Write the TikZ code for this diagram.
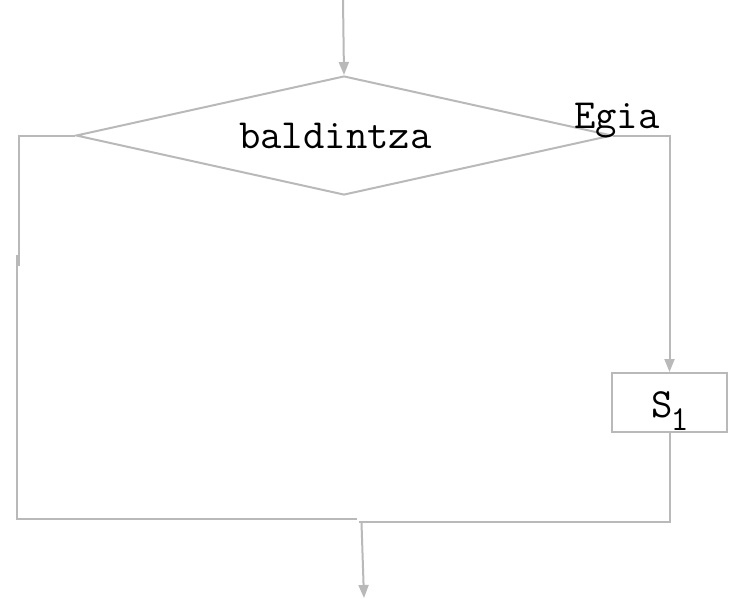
\documentclass[tikz,border=0pt]{standalone}
\usepackage{fontspec}
\usetikzlibrary{shapes.geometric,arrows.meta}
\definecolor{linegray}{RGB}{185,185,185}
\begin{document}
\begin{tikzpicture}[x=1pt,y=-1pt,
  flow/.style={draw=linegray,line width=2pt},
  arr/.style={flow,-{Triangle[length=13pt,width=10pt]}},
  lbl/.style={font=\ttfamily\fontsize{41.5}{44}\selectfont,text=black,inner sep=0pt,anchor=base west},
]
\useasboundingbox (0,0) rectangle (735,598);

% decision
\node[flow,diamond,minimum width=536pt,minimum height=119pt,inner sep=0pt]
  (cond) at (344,135.5) {};
\node[lbl] (condtext) at (239,148) {baldintza};
\node[lbl] (yes) at (574,128) {Egia};

% statement box
\node[flow,rectangle,minimum width=115pt,minimum height=59pt,inner sep=0pt]
  (s1) at (669.5,402.5) {};
\node[lbl] (s1text) at (651,417)
  {S\kern-2pt\raisebox{-13pt}{\fontsize{35}{35}\selectfont 1}};

% entry
\coordinate (entry) at (343,0);
\draw[arr] (entry) -- (cond.north);

% true branch
\draw[arr] (cond.east) -| (s1.north);
\coordinate (rjoin) at (669.5,521.5);
\coordinate (rend) at (359,521.5);
\draw[flow] (s1.south) -- (rjoin) -- (rend);

% false branch
\coordinate (lcorner) at (18.5,135.5);
\coordinate (lbreak) at (18.5,266);
\draw[flow] (cond.west) -- (lcorner) -- (lbreak);
\coordinate (lstart) at (17,255);
\coordinate (lbottom) at (17,519);
\coordinate (lend) at (357,519);
\draw[flow] (lstart) -- (lbottom) -- (lend);

% exit
\coordinate (exitstart) at (361.5,523);
\coordinate (exitend) at (364,598);
\draw[arr] (exitstart) -- (exitend);
\end{tikzpicture}
\end{document}
